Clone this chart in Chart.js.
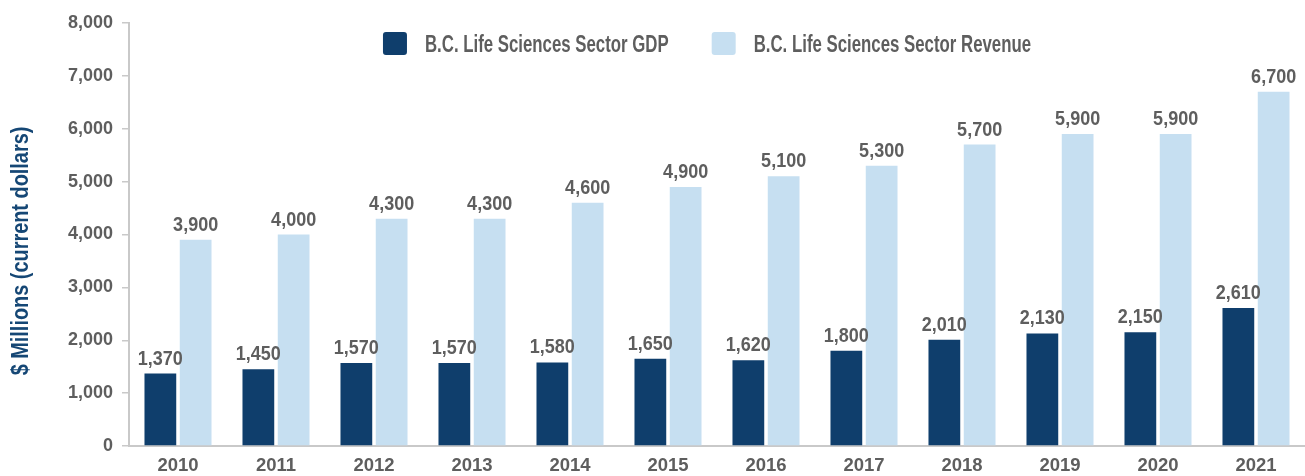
<!DOCTYPE html>
<html>
<head>
<meta charset="utf-8">
<title>B.C. Life Sciences Sector GDP and Revenue</title>
<script src="https://cdn.jsdelivr.net/npm/chart.js@4"></script>
<style>
  html, body { margin: 0; padding: 0; background: #ffffff; }
</style>
</head>
<body>
<canvas id="chart" width="1305" height="476"></canvas>
<script>
// chart data
const years = ['2010', '2011', '2012', '2013', '2014', '2015', '2016', '2017', '2018', '2019', '2020', '2021'];
const gdpValues = [1370, 1450, 1570, 1570, 1580, 1650, 1620, 1800, 2010, 2130, 2150, 2610];
const revenueValues = [3900, 4000, 4300, 4300, 4600, 4900, 5100, 5300, 5700, 5900, 5900, 6700];
const seriesNames = ['B.C. Life Sciences Sector GDP', 'B.C. Life Sciences Sector Revenue'];
const yAxisTitle = '$ Millions (current dollars)';
const yMin = 0;
const yMax = 8000;
const yStep = 1000;

const fontFamily = "'Liberation Sans', Arial, sans-serif";
const textGrey = '#5e5e5e';
const axisGrey = '#c9c9c9';
const navy = '#0f3e6c';
const titleBlue = '#154775';
const lightBlue = '#c6dff1';

Chart.defaults.font.family = fontFamily;
Chart.defaults.font.weight = 'bold';
Chart.defaults.color = textGrey;

function fmt(v) {
    return Number(v).toLocaleString('en-US');
}

// draw text squeezed horizontally, to get closer to the condensed face of the original
function squeezed(ctx, text, x, y, sx) {
    ctx.save();
    ctx.translate(x, y);
    ctx.scale(sx, 1);
    ctx.fillText(text, 0, 0);
    ctx.restore();
}

// Value labels above every bar
const barValueLabels = {
    id: 'barValueLabels',
    afterDatasetsDraw(chart) {
        const ctx = chart.ctx;
        ctx.save();
        ctx.font = 'bold 20px ' + fontFamily;
        ctx.fillStyle = textGrey;
        ctx.textAlign = 'center';
        ctx.textBaseline = 'alphabetic';
        chart.data.datasets.forEach((ds, i) => {
            chart.getDatasetMeta(i).data.forEach((bar, j) => {
                squeezed(ctx, fmt(ds.data[j]), bar.x, bar.y - 9, 0.9);
            });
        });
        ctx.restore();
    }
};

// Legend drawn over the top of the plot, centred like the original
const overlayLegend = {
    id: 'overlayLegend',
    afterDraw(chart) {
        const ctx = chart.ctx;
        const boxW = 24, boxH = 23, boxGap = 18, itemGap = 43, sx = 0.715;
        const centerX = 707;
        const top = 32;
        ctx.save();
        ctx.font = 'bold 23.5px ' + fontFamily;
        const items = chart.data.datasets.map(ds => ({
            label: ds.label,
            color: ds.backgroundColor,
            w: boxW + boxGap + ctx.measureText(ds.label).width * sx
        }));
        const total = items.reduce((s, it) => s + it.w, 0) + itemGap * (items.length - 1);
        let x = centerX - total / 2;
        items.forEach(it => {
            ctx.fillStyle = it.color;
            ctx.beginPath();
            ctx.roundRect(x, top, boxW, boxH, 3);
            ctx.fill();
            ctx.fillStyle = textGrey;
            ctx.textAlign = 'left';
            ctx.textBaseline = 'alphabetic';
            squeezed(ctx, it.label, x + boxW + boxGap, top + 20, sx);
            x += it.w + itemGap;
        });
        ctx.restore();
    }
};

// Y axis title, rotated
const yTitle = {
    id: 'yTitle',
    afterDraw(chart) {
        const ctx = chart.ctx;
        ctx.save();
        ctx.font = 'bold 23px ' + fontFamily;
        ctx.fillStyle = titleBlue;
        ctx.textAlign = 'center';
        ctx.textBaseline = 'middle';
        ctx.translate(22, 251);
        ctx.rotate(-Math.PI / 2);
        squeezed(ctx, yAxisTitle, 0, 0, 0.865);
        ctx.restore();
    }
};

const ctx = document.getElementById('chart').getContext('2d');

new Chart(ctx, {
    type: 'bar',
    data: {
        labels: years,
        datasets: [{
            label: seriesNames[0],
            data: gdpValues,
            backgroundColor: navy,
            categoryPercentage: 0.72,
            barPercentage: 0.9
        }, {
            label: seriesNames[1],
            data: revenueValues,
            backgroundColor: lightBlue,
            categoryPercentage: 0.72,
            barPercentage: 0.9
        }]
    },
    options: {
        responsive: false,
        animation: false,
        layout: {
            padding: { top: 23, right: 0, bottom: 0, left: 0 }
        },
        plugins: {
            legend: { display: false },
            tooltip: { enabled: false }
        },
        scales: {
            x: {
                grid: { display: false, drawTicks: false },
                border: { display: true, color: axisGrey, width: 2 },
                ticks: {
                    padding: 9,
                    font: { size: 18.5, weight: 'bold' },
                    color: textGrey
                },
                afterFit(scale) {
                    scale.height = 30;
                }
            },
            y: {
                min: yMin,
                max: yMax,
                grid: {
                    display: true,
                    drawOnChartArea: false,
                    drawTicks: true,
                    tickLength: 7,
                    color: axisGrey,
                    lineWidth: 1.5
                },
                border: { display: true, color: axisGrey, width: 2 },
                ticks: {
                    stepSize: yStep,
                    padding: 9,
                    font: { size: 18, weight: 'bold' },
                    color: textGrey,
                    callback: v => fmt(v)
                },
                afterFit(scale) {
                    scale.width = 129;
                }
            }
        }
    },
    plugins: [barValueLabels, overlayLegend, yTitle]
});
</script>
</body>
</html>
